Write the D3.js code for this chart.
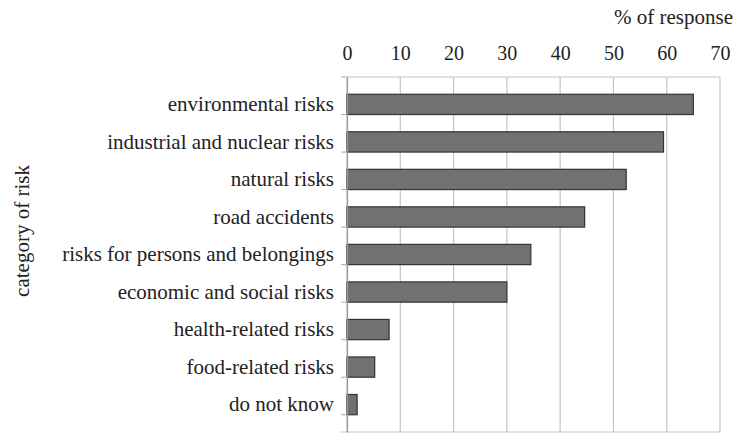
<!DOCTYPE html>
<html>
<head>
<meta charset="utf-8">
<script src="https://cdn.jsdelivr.net/npm/d3@7"></script>
<style>
  body { margin: 0; background: #fff; }
</style>
</head>
<body>
<svg id="chart" width="737" height="434"></svg>
<script>
const categories = [
    'environmental risks',
    'industrial and nuclear risks',
    'natural risks',
    'road accidents',
    'risks for persons and belongings',
    'economic and social risks',
    'health-related risks',
    'food-related risks',
    'do not know'
]
const values = [65.0, 59.4, 52.4, 44.6, 34.5, 30.0, 7.9, 5.2, 1.9]
const xTicks = [0, 10, 20, 30, 40, 50, 60, 70]

const serif = '"Liberation Serif", "Times New Roman", serif'

function main() {
    let svg = d3.select('#chart'),
        margin = {top: 77, right: 17, bottom: 2, left: 347},
        w = +svg.attr('width'),
        h = +svg.attr('height'),
        width = w - margin.left - margin.right,
        height = h - margin.top - margin.bottom

    let xScale = d3.scaleLinear().domain([0, 70]).range([margin.left, margin.left + width])
    let yScale = d3.scaleBand().domain(categories).range([margin.top, margin.top + height]).padding(0.46)

    // gridlines
    svg.append('g')
        .selectAll('line')
        .data(xTicks)
        .enter()
        .append('line')
        .attr('x1', d => xScale(d))
        .attr('x2', d => xScale(d))
        .attr('y1', margin.top)
        .attr('y2', margin.top + height)
        .attr('stroke', '#c4c4c4')
        .attr('stroke-width', 1.2)

    // top and bottom frame
    svg.append('line')
        .attr('x1', margin.left).attr('x2', margin.left + width)
        .attr('y1', margin.top).attr('y2', margin.top)
        .attr('stroke', '#c4c4c4').attr('stroke-width', 1.2)
    svg.append('line')
        .attr('x1', margin.left - 6).attr('x2', margin.left + width)
        .attr('y1', margin.top + height).attr('y2', margin.top + height)
        .attr('stroke', '#c4c4c4').attr('stroke-width', 1.2)

    // top axis
    let xAxis = svg.append('g')
        .attr('transform', 'translate(0, ' + margin.top + ')')
        .call(d3.axisTop(xScale).tickValues(xTicks).tickSize(0).tickPadding(17))
    xAxis.select('.domain').remove()
    xAxis.selectAll('text')
        .style('font-family', serif)
        .style('font-size', '20px')
        .attr('fill', '#222')

    svg.append('text')
        .attr('text-anchor', 'end')
        .attr('x', 733)
        .attr('y', 24)
        .style('font-family', serif)
        .style('font-size', '21px')
        .attr('fill', '#222')
        .text('% of response')

    // bars
    svg.selectAll('.bar')
        .data(categories)
        .enter()
        .append('rect')
        .attr('class', 'bar')
        .attr('x', xScale(0))
        .attr('y', d => yScale(d))
        .attr('width', (d, i) => xScale(values[i]) - xScale(0))
        .attr('height', yScale.bandwidth())
        .attr('fill', '#717171')
        .attr('stroke', '#333')
        .attr('stroke-width', 1.2)

    // left axis
    let yAxis = svg.append('g')
        .attr('transform', 'translate(' + margin.left + ', 0)')
        .call(d3.axisLeft(yScale).tickSize(0).tickPadding(13))
    yAxis.select('.domain').attr('stroke', '#999').attr('stroke-width', 1.2)
    yAxis.selectAll('text')
        .style('font-family', serif)
        .style('font-size', '21px')
        .attr('fill', '#222')

    // small ticks between categories
    let step = yScale.step()
    svg.append('g')
        .selectAll('line')
        .data(d3.range(categories.length + 1))
        .enter()
        .append('line')
        .attr('x1', margin.left - 6)
        .attr('x2', margin.left)
        .attr('y1', i => margin.top + i * step)
        .attr('y2', i => margin.top + i * step)
        .attr('stroke', '#aaa')
        .attr('stroke-width', 1)

    svg.append('text')
        .attr('text-anchor', 'middle')
        .attr('transform', 'translate(29, 231) rotate(-90)')
        .style('font-family', serif)
        .style('font-size', '21px')
        .attr('fill', '#222')
        .text('category of risk')
}

main()
</script>
</body>
</html>
